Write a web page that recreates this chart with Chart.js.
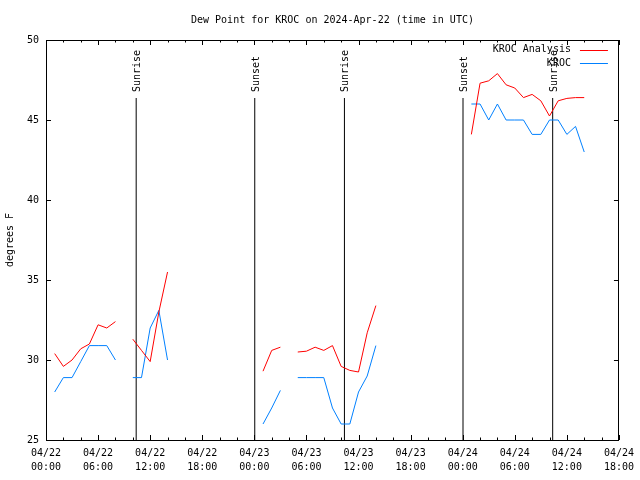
<!DOCTYPE html>
<html><head><meta charset="utf-8">
<script src="https://cdn.jsdelivr.net/npm/chart.js@4/dist/chart.umd.min.js"></script>
<style>html,body{margin:0;padding:0;background:#fff}</style>
</head><body>
<canvas id="c" width="640" height="480"></canvas>
<script>
const titleText = 'Dew Point for KROC on 2024-Apr-22 (time in UTC)';
const yAxisTitle = 'degrees F';
// hours since 2024-04-22 00:00 UTC
const hours = [1,2,3,4,5,6,7,8,9,10,11,12,13,14,15,16,17,18,19,20,21,22,23,24,25,26,27,28,29,30,31,32,33,34,35,36,37,38,39,40,41,42,43,44,45,46,47,48,49,50,51,52,53,54,55,56,57,58,59,60,61,62];
const analysisValues = [30.4,29.6,30.0,30.7,31.0,32.2,32.0,32.4,null,31.3,30.6,29.9,33.0,35.5,
  null,null,null,null,null,null,null,null,null,null,
  29.3,30.6,30.8,null,30.5,30.55,30.8,30.6,30.9,29.6,29.35,29.25,31.7,33.4,
  null,null,null,null,null,null,null,null,null,null,
  44.1,47.3,47.45,47.9,47.2,47.0,46.4,46.6,46.2,45.25,46.2,46.35,46.4,46.4];
const obsValues = [28.0,28.9,28.9,29.9,30.9,30.9,30.9,30.0,null,28.9,28.9,32.0,33.1,30.0,
  null,null,null,null,null,null,null,null,null,null,
  26.0,27.0,28.1,null,28.9,28.9,28.9,28.9,27.0,26.0,26.0,28.0,29.0,30.9,
  null,null,null,null,null,null,null,null,null,null,
  46.0,46.0,45.0,46.0,45.0,45.0,45.0,44.1,44.1,45.0,45.0,44.1,44.6,43.0];
const seriesNames = ['KROC Analysis','KROC'];
const sunHours = [10.388,24.047,34.377,48.036,58.366];
const sunLabels = ['Sunrise','Sunset','Sunrise','Sunset','Sunrise'];
const sunLineTop = 46.375;
const xTickDates = ['04/22','04/22','04/22','04/22','04/23','04/23','04/23','04/23','04/24','04/24','04/24','04/24'];
const xTickTimes = ['00:00','06:00','12:00','18:00','00:00','06:00','12:00','18:00','00:00','06:00','12:00','18:00'];
const yTickValues = [25,30,35,40,45,50];

const FONT = "'DejaVu Sans Mono', 'Liberation Mono', monospace";
const toPts = vals => hours.map((h,i)=>({x:h,y:vals[i]}));

const datasets = [
  {label:seriesNames[0], data:toPts(analysisValues), borderColor:'#ff0000', borderWidth:1, pointRadius:0, spanGaps:false, tension:0},
  {label:seriesNames[1], data:toPts(obsValues), borderColor:'#0080ff', borderWidth:1, pointRadius:0, spanGaps:false, tension:0}
];
sunHours.forEach((h,i)=>{
  datasets.push({label:sunLabels[i], isSun:true, data:[{x:h,y:25},{x:h,y:sunLineTop}], borderColor:'#000', borderWidth:1, pointRadius:0});
});

const decor = {
  id:'decor',
  afterDatasetsDraw(chart){
    const {ctx, chartArea:a, scales:{x,y}} = chart;
    ctx.save();
    ctx.strokeStyle='#000'; ctx.lineWidth=1;
    ctx.beginPath();
    for(let h=0; h<=66; h+=2){
      const px = Math.round(x.getPixelForValue(h))+0.5;
      const len = h%6===0 ? 5 : 2.5;
      ctx.moveTo(px,a.bottom); ctx.lineTo(px,a.bottom-len);
      ctx.moveTo(px,a.top); ctx.lineTo(px,a.top+len);
    }
    yTickValues.forEach(v=>{
      const py = Math.round(y.getPixelForValue(v))+0.5;
      ctx.moveTo(a.left,py); ctx.lineTo(a.left+5,py);
      ctx.moveTo(a.right,py); ctx.lineTo(a.right-5,py);
    });
    ctx.stroke();
    ctx.strokeRect(Math.round(a.left)+0.5, Math.round(a.top)+0.5, Math.round(a.right-a.left)-1, Math.round(a.bottom-a.top));
    // sun labels
    ctx.fillStyle='#000';
    ctx.font = '10px '+FONT;
    sunHours.forEach((h,i)=>{
      const px = x.getPixelForValue(h);
      const py = y.getPixelForValue(sunLineTop)-6;
      ctx.save();
      ctx.translate(px+4,py);
      ctx.rotate(-Math.PI/2);
      ctx.textAlign='left'; ctx.textBaseline='alphabetic';
      ctx.fillText(sunLabels[i],0,0);
      ctx.restore();
    });
    // legend
    chart.data.datasets.filter(d=>!d.isSun).forEach((d,i)=>{
      const ly = a.top + 9.5 + i*13.5;
      ctx.textAlign='right'; ctx.textBaseline='middle';
      ctx.fillStyle='#000';
      ctx.fillText(d.label, a.right-48, ly);
      ctx.strokeStyle=d.borderColor;
      ctx.beginPath();
      ctx.moveTo(a.right-39, Math.round(ly)+0.5); ctx.lineTo(a.right-11, Math.round(ly)+0.5);
      ctx.stroke();
    });
    ctx.restore();
  }
};

new Chart(document.getElementById('c'), {
  type:'line',
  data:{datasets},
  options:{
    responsive:false, animation:false, devicePixelRatio:1,
    layout:{padding:{left:0,right:19,top:0,bottom:0}},
    plugins:{
      legend:{display:false}, tooltip:{enabled:false},
      title:{display:true, text:titleText, fullSize:false, color:'#000',
        font:{family:FONT,size:10,weight:'normal',lineHeight:1.2}, padding:{top:14,bottom:14}}
    },
    scales:{
      x:{type:'linear', min:0, max:66, offset:false,
        grid:{display:false, drawTicks:false}, border:{display:false},
        ticks:{stepSize:6, autoSkip:false, maxRotation:0, padding:6, color:'#000',
          font:{family:FONT,size:10,lineHeight:1.4},
          callback:(v)=>{const i=Math.round(v/6); return [xTickDates[i], xTickTimes[i]];}},
        afterFit:s=>{s.height=40;}
      },
      y:{min:25, max:50,
        grid:{display:false, drawTicks:false}, border:{display:false},
        ticks:{stepSize:5, padding:7, color:'#000', font:{family:FONT,size:10}},
        title:{display:true, text:yAxisTitle, color:'#000', font:{family:FONT,size:10}, padding:{top:4,bottom:0}},
        afterFit:s=>{s.width=46;}
      }
    }
  },
  plugins:[decor]
});
</script>
</body></html>
